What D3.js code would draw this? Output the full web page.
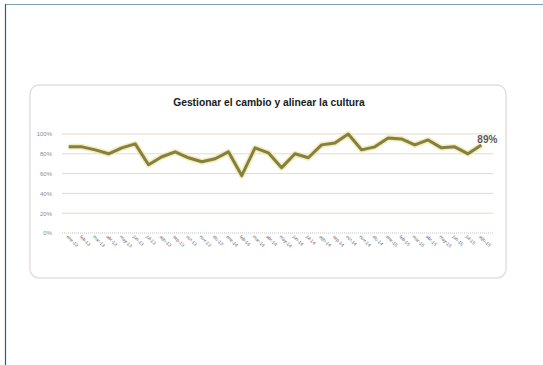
<!DOCTYPE html>
<html><head><meta charset="utf-8">
<script src="https://cdn.jsdelivr.net/npm/d3@7"></script>
<style>html,body{margin:0;padding:0;background:#fff;}svg{display:block;}</style>
</head><body>
<svg id="c" width="543" height="365"></svg>
<script>
const title = "Gestionar el cambio y alinear la cultura";
const categories = ["ene-13","feb-13","mar-13","abr-13","may-13","jun-13","jul-13","ago-13","sep-13","oct-13","nov-13","dic-13",
  "ene-14","feb-14","mar-14","abr-14","may-14","jun-14","jul-14","ago-14","sep-14","oct-14","nov-14","dic-14",
  "ene-15","feb-15","mar-15","abr-15","may-15","jun-15","jul-15","ago-15"];
const values = [87,87,84,80,86,90,69,77,82,76,72,75,82,58,86,81,66,80,76,89,91,100,84,87,96,95,89,94,86,87,80,89];
const yTicks = [0,20,40,60,80,100];
const lastLabel = "89%";

const svg = d3.select("#c");
// page frame
svg.append("line").attr("x1",5).attr("x2",543).attr("y1",4.5).attr("y2",4.5).attr("stroke","#7f9fb4").attr("stroke-width",1);
svg.append("line").attr("x1",5.5).attr("x2",5.5).attr("y1",4).attr("y2",365).attr("stroke","#1d6391").attr("stroke-width",1.2);

// chart box
svg.append("rect").attr("x",30).attr("y",85).attr("width",476).attr("height",193).attr("rx",9)
  .attr("fill","#fff").attr("stroke","#e4e0dc").attr("stroke-width",1.5);

svg.append("text").attr("x",269).attr("y",106).attr("text-anchor","middle")
  .attr("font-family","Liberation Sans, Arial, sans-serif").attr("font-weight","bold").attr("font-size",10.3)
  .attr("fill","#1a1a1a").text(title);

const x = d3.scalePoint().domain(categories).range([62,488]).padding(0.5);
const y = d3.scaleLinear().domain([0,100]).range([233,134]);

// gridlines
const g = svg.append("g");
g.selectAll("line.grid").data(yTicks.filter(d=>d>0)).join("line")
  .attr("x1",62).attr("x2",493).attr("y1",d=>y(d)).attr("y2",d=>y(d))
  .attr("stroke","#e6d9cc").attr("stroke-width",1);
g.append("line").attr("x1",62).attr("x2",493).attr("y1",y(0)).attr("y2",y(0))
  .attr("stroke","#c4c4c4").attr("stroke-width",1).attr("stroke-dasharray","1,1");

// y labels
const yAxis = d3.axisLeft(y).tickValues(yTicks).tickFormat(d=>d+"%").tickSize(0).tickPadding(0);
const ya = svg.append("g").attr("transform","translate(52,0)").call(yAxis);
ya.select(".domain").remove();
ya.selectAll("text").attr("font-family","Liberation Sans, Arial, sans-serif").attr("font-size",6).attr("fill","#8a8a8a");

// x labels
const xAxis = d3.axisBottom(x).tickSize(0).tickPadding(0);
const xa = svg.append("g").attr("transform",`translate(0,${y(0)})`).call(xAxis);
xa.select(".domain").remove();
xa.selectAll("text").attr("font-family","Liberation Sans, Arial, sans-serif").attr("font-size",4.6).attr("fill","#5e5e5e")
  .attr("text-anchor","start").attr("dy",0).attr("transform","translate(-3,4) rotate(45)");

// line
const line = d3.line().x((d,i)=>x(categories[i])).y(d=>y(d));
svg.append("path").datum(values).attr("d",line).attr("fill","none")
  .attr("stroke","#efe8a8").attr("stroke-width",6).attr("stroke-linejoin","round").attr("opacity",0.8);
svg.append("path").datum(values).attr("d",line).attr("fill","none")
  .attr("stroke","#857f42").attr("stroke-width",3).attr("stroke-linejoin","round");

svg.append("text").attr("x",x(categories[categories.length-1])-4).attr("y",y(values[values.length-1])-2)
  .attr("font-family","Liberation Sans, Arial, sans-serif").attr("font-size",10).attr("font-weight","bold")
  .attr("fill","#5a5a5a").text(lastLabel);
</script>
</body></html>
